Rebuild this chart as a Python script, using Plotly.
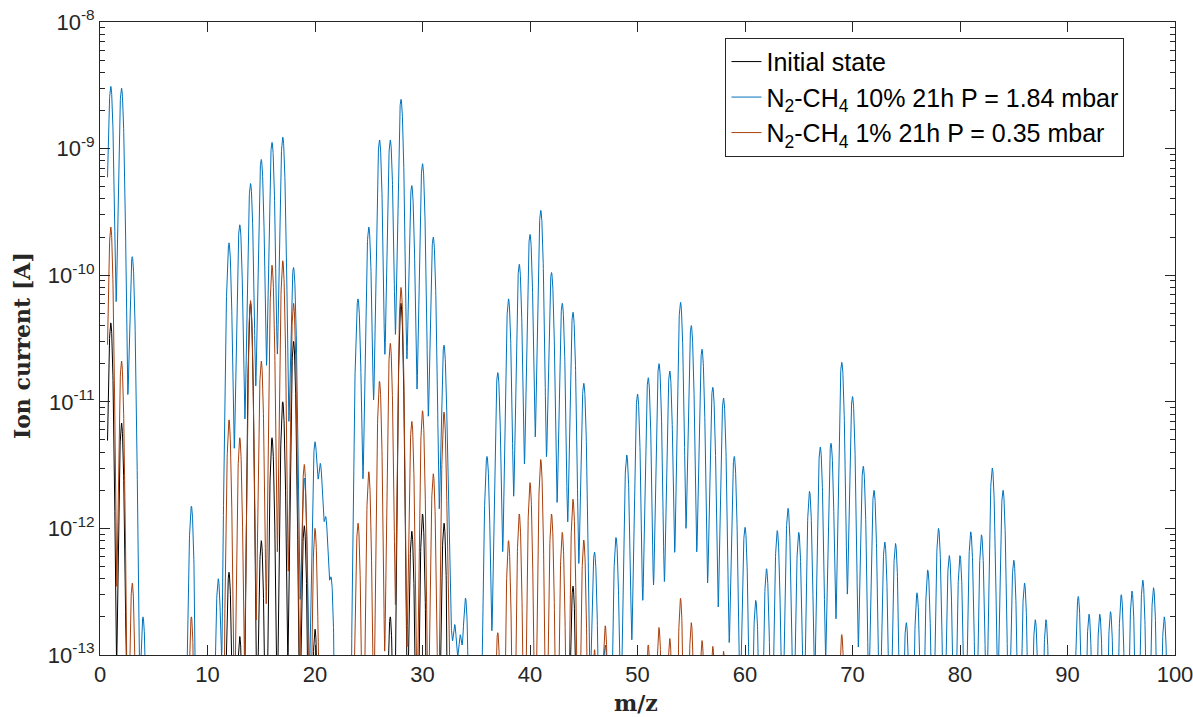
import numpy as np
import plotly.graph_objects as go

# ---- data: peak positions (m/z) and peak heights (A) ----
init_mz = [1, 2, 12, 13, 14, 15, 16, 17, 18, 19, 20, 27, 28, 29, 30, 32, 44]
init_I = [4.2e-11, 6.8e-12, 4.5e-13, 1.4e-13, 6.0e-11, 8.0e-13, 5.2e-12, 1.0e-11, 3.0e-11,
          1.05e-12, 1.6e-13, 2.0e-13, 6.0e-11, 9.5e-13, 1.3e-12, 1.1e-12, 3.5e-13]

n10_mz = [1, 2, 3, 4, 8.5, 11, 12, 13, 14, 15, 16, 17, 18, 19, 20, 20.5, 21, 21.5,
          24, 25, 26, 27, 28, 29, 30, 31, 32, 32.5, 33, 33.5, 34,
          36, 37, 38, 39, 40, 41, 42, 43, 44, 45, 46, 47, 48, 49, 50,
          51, 52, 53, 54, 55, 56, 57, 58, 59, 60, 61, 62, 63, 64, 65, 66, 67, 68, 69, 70,
          71, 72, 73, 74, 75, 76, 77, 78, 79, 80, 81, 82, 83, 84, 85, 86, 87, 88,
          91, 92, 93, 94, 95, 96, 97, 98, 99]
n10_I = [3.1e-9, 3.0e-9, 1.4e-10, 2.0e-13, 1.5e-12, 4.0e-13, 1.8e-10, 2.5e-10, 5.3e-10, 8.2e-10,
         1.12e-9, 1.23e-9, 1.15e-10, 2.5e-12, 4.8e-12, 3.2e-12, 1.2e-12, 4.0e-13,
         6.5e-11, 2.4e-10, 1.17e-9, 1.17e-9, 2.45e-9, 5.1e-10, 7.6e-10, 2.0e-10, 2.8e-11,
         2.5e-13, 1.7e-13, 1.4e-13, 2.8e-13,
         3.7e-12, 1.7e-11, 6.5e-11, 1.22e-10, 2.1e-10, 3.25e-10, 1.05e-10, 6.0e-11, 5.1e-11,
         1.4e-11, 6.5e-13, 1.2e-13, 8.5e-13, 3.8e-12, 1.15e-11,
         1.55e-11, 2.0e-11, 1.75e-11, 6.1e-11, 4.0e-11, 2.6e-11, 1.3e-11, 1.07e-11, 3.7e-12,
         1.02e-12, 2.7e-13, 4.8e-13, 9.6e-13, 1.44e-12, 9.3e-13, 1.96e-12, 4.4e-12, 4.7e-12,
         2.05e-11, 1.1e-11,
         3.1e-12, 2.0e-12, 7.8e-13, 7.6e-13, 1.8e-13, 3.1e-13, 4.7e-13, 1.0e-12, 6.1e-13,
         6.1e-13, 9.4e-13, 8.9e-13, 3.0e-12, 2.0e-12, 5.6e-13, 3.7e-13, 1.9e-13, 1.9e-13,
         2.9e-13, 2.1e-13, 2.1e-13, 2.2e-13, 3.0e-13, 3.2e-13, 3.9e-13, 3.4e-13, 2.0e-13]

n1_mz = [1, 2, 3, 8.5, 12, 13, 14, 15, 16, 17, 18, 19, 20, 24, 25, 26, 27, 28, 29, 30, 31, 32,
         37, 38, 39, 40, 41, 42, 43, 44, 45, 46, 47, 51, 52, 53, 54, 55, 56, 57, 58, 69]
n1_I = [2.4e-10, 2.1e-11, 3.7e-13, 2.0e-13, 7.2e-12, 5.2e-12, 6.3e-11, 2.1e-11, 1.2e-10,
        1.3e-10, 6.0e-11, 3.2e-12, 1.0e-12, 1.1e-12, 2.8e-12, 1.45e-11, 2.9e-11, 8.0e-11,
        7.0e-12, 8.5e-12, 2.7e-12, 8.3e-12,
        1.5e-13, 8.0e-13, 1.3e-12, 2.3e-12, 3.5e-12, 1.3e-12, 9.3e-13, 1.7e-12, 8.1e-13,
        1.1e-13, 1.7e-13, 1.2e-13, 1.65e-13, 1.35e-13, 2.8e-13, 1.8e-13, 1.3e-13, 1.17e-13,
        1.07e-13, 1.45e-13]

y_tick_exponents = [-13, -12, -11, -10, -9, -8]
x_ticks = [0, 10, 20, 30, 40, 50, 60, 70, 80, 90, 100]

names = ["Initial state",
         "N<sub>2</sub>-CH<sub>4</sub> 10% 21h P = 1.84 mbar",
         "N<sub>2</sub>-CH<sub>4</sub> 1% 21h P = 0.35 mbar"]
colors = ["#000000", "#0072BD", "#A83F0C"]
widths = [0.145, 0.165, 0.145]   # peak shape width (style)

mz_axis = np.arange(0.7, 100.0001, 0.01)


def spectrum(centres, heights, w):
    y = np.full_like(mz_axis, 1e-20)
    for c, h in zip(centres, heights):
        y += h * np.exp(-((mz_axis - c) ** 2) / (2 * w * w))
    return y


fig = go.Figure()
for (mz, inten), name, col, w in zip([(init_mz, init_I), (n10_mz, n10_I), (n1_mz, n1_I)],
                                    names, colors, widths):
    fig.add_trace(go.Scatter(x=mz_axis, y=spectrum(mz, inten, w), mode="lines",
                             name=name, line=dict(color=col, width=1)))

minor_vals = [m * 10.0 ** e for e in range(-13, -8) for m in range(2, 10)]

axis_common = dict(showline=True, linecolor="#262626", linewidth=1, mirror="ticks",
                   ticks="inside", tickcolor="#262626", showgrid=False, zeroline=False,
                   automargin=False, ticklabeloverflow="allow",
                   tickfont=dict(family="Liberation Sans, Arial", size=22, color="#262626"))

title_font = dict(family="DejaVu Serif, serif", size=22, color="#262626")

fig.update_layout(
    width=1193, height=717,
    margin=dict(l=100, r=18, t=22, b=62),
    plot_bgcolor="white", paper_bgcolor="white",
    xaxis=dict(range=[0, 100], tickvals=x_ticks, ticklen=10, **axis_common),
    yaxis=dict(type="log", range=[-13, -8],
               tickvals=[10.0 ** e for e in y_tick_exponents],
               ticktext=["10<sup>%d</sup>" % e for e in y_tick_exponents], ticklen=10,
               minor=dict(tickvals=minor_vals, ticks="inside", ticklen=5, tickcolor="#262626",
                          showgrid=False),
               **axis_common),
    legend=dict(x=0.953, y=0.975, xanchor="right", yanchor="top",
                bgcolor="white", bordercolor="#262626", borderwidth=1,
                font=dict(family="Liberation Sans, Arial", size=25, color="#000000"),
                itemwidth=30, tracegroupgap=0),
    showlegend=True,
    annotations=[
        dict(text="<b>Ion current [A]</b>", textangle=-90, font=title_font,
             xref="paper", yref="paper", x=0, y=0.488, xanchor="center", yanchor="middle",
             xshift=-78, showarrow=False),
        dict(text="<b>m/z</b>", font=title_font,
             xref="paper", yref="paper", x=0.4986, y=0, xanchor="center", yanchor="middle",
             yshift=-48, showarrow=False),
    ],
)

fig.write_html("out.html", config={"displayModeBar": False},
               post_script="document.body.style.margin='0';document.body.style.overflow='hidden';")
